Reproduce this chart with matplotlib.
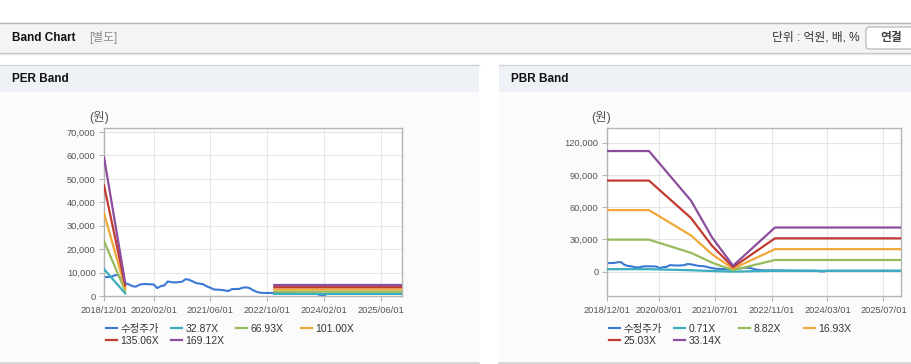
import numpy as np
import pandas as pd
import matplotlib
matplotlib.use('Agg')
import matplotlib.pyplot as plt
import matplotlib.ticker as mticker
from matplotlib.patches import Rectangle, FancyBboxPatch
from matplotlib.legend import Legend

plt.rcParams['font.family'] = ['Liberation Sans', 'Noto Sans CJK KR']

# ---- data ----
months = pd.date_range('2018-12-01', '2025-12-01', freq='MS')

# 수정주가, monthly
price = [8100, 8100, 8200, 8800, 9000, 6500, 5400, 5000, 4200, 4000,
         4800, 5100, 5100, 5000, 4900, 3400, 4200, 4500, 6200, 5900,
         5800, 5900, 6100, 7200, 6900, 6200, 5500, 5300, 5000, 4100,
         3500, 2800, 2700, 2600, 2400, 2100, 2900, 3000, 3000, 3500,
         3700, 3400, 2500, 1800, 1400, 1300, 1300, 1300, 1300,
         1200, 1200, 1100, 1100, 1100, 1000, 1000, 1000, 1000, 1000, 1000, 900,
         350, 350,
         900, 900, 900, 900, 900, 900, 900, 900, 900, 900, 900,
         900, 900, 900, 900, 900, 900, 900, 900, 900, 900, 900]

per_labels = ['32.87X', '66.93X', '101.00X', '135.06X', '169.12X']
per_dates = ['2018-12-01', '2019-06-01', '2019-07-01', '2022-12-01', '2025-12-01']
per_bands = [
    [11500, 1090, np.nan, 910, 910],
    [23400, 2210, np.nan, 1860, 1860],
    [35350, 3330, np.nan, 2810, 2810],
    [47270, 4460, np.nan, 3760, 3760],
    [59200, 5580, np.nan, 4700, 4700],
]
per_ticks = ['2018/12/01', '2020/02/01', '2021/06/01', '2022/10/01', '2024/02/01', '2025/06/01']

pbr_labels = ['0.71X', '8.82X', '16.93X', '25.03X', '33.14X']
pbr_dates = ['2018-12-01', '2019-12-01', '2020-12-01', '2021-06-01',
             '2021-12-01', '2022-12-01', '2025-12-01']
pbr_bands = [
    [2400, 2400, 1410, 690, 120, 880, 880],
    [29840, 29840, 17570, 8520, 1490, 10940, 10940],
    [57270, 57270, 33720, 16350, 2860, 20990, 20990],
    [84680, 84680, 49860, 24180, 4230, 31040, 31040],
    [112110, 112110, 66020, 32010, 5600, 41090, 41090],
]
pbr_ticks = ['2018/12/01', '2020/03/01', '2021/07/01', '2022/11/01', '2024/03/01', '2025/07/01']

price_color = '#3a78d4'
band_colors = ['#3aaebf', '#97bb5a', '#f0a83a', '#c23b30', '#8c4d9c']

W, H = 912, 364
fig = plt.figure(figsize=(W / 100, H / 100), dpi=100)

# background / page decoration in pixel coordinates
bg = fig.add_axes([0, 0, 1, 1], zorder=-10)
bg.set_xlim(0, W)
bg.set_ylim(H, 0)
bg.axis('off')

bg.add_patch(Rectangle((0, 22.5), W, 30, facecolor='#f4f4f4', edgecolor='none'))
bg.plot([0, W], [22.5, 22.5], color='#b4b4b4', lw=1)
bg.plot([0, W], [52.8, 52.8], color='#c4c4c4', lw=1)
bg.plot([0, W], [54, 54], color='#e6e6e6', lw=1)
bg.text(12, 38, 'Band Chart', fontsize=8.5, fontweight='bold', color='#111111', va='center')
bg.text(89, 38, '[별도]', fontsize=8.5, color='#8a8a8a', va='center')
bg.text(860, 38, '단위 : 억원, 배, %', fontsize=8.5, color='#333333', va='center', ha='right')
bg.add_patch(FancyBboxPatch((866, 27), 60, 22, boxstyle='round,pad=0,rounding_size=3',
                            facecolor='white', edgecolor='#b0b0b0', lw=0.8))
bg.text(891, 38, '연결', fontsize=8.5, fontweight='bold', color='#444444', va='center', ha='center')

for x0, x1, title in [(0, 479, 'PER Band'), (499, W, 'PBR Band')]:
    bg.add_patch(Rectangle((x0, 64.5), x1 - x0, 27.5, facecolor='#eef2f7', edgecolor='none'))
    bg.add_patch(Rectangle((x0, 92), x1 - x0, 270, facecolor='#fbfbfb', edgecolor='none'))
    bg.plot([x0, x1], [64.5, 64.5], color='#d2d2d2', lw=1)
    bg.plot([x0, x1], [362.5, 362.5], color='#d0d0d0', lw=1.2)
    bg.text(x0 + 12, 79, title, fontsize=8.5, fontweight='bold', color='#111111', va='center')


def draw_band(left_px, right_px, ylim, yticks, tick_labels, band_dates, bands, labels, ylab_x):
    ax = fig.add_axes([left_px / W, 1 - 296 / H, (right_px - left_px) / W, 168 / H])
    ax.set_facecolor('white')
    pl, = ax.plot(months, price, color=price_color, lw=1.5, label='수정주가', zorder=2)
    bd = pd.to_datetime(band_dates)
    handles = [pl]
    for vals, c, lab in zip(bands, band_colors, labels):
        ln, = ax.plot(bd, vals, color=c, lw=1.6, label=lab, zorder=3)
        handles.append(ln)
    ax.set_xlim(months[0], months[-1])
    ax.set_ylim(*ylim)
    ax.set_yticks(yticks)
    ax.yaxis.set_major_formatter(mticker.FuncFormatter(lambda v, p: f'{v:,.0f}'))
    ax.set_xticks(pd.to_datetime(tick_labels))
    ax.set_xticklabels(tick_labels)
    ax.grid(True, color='#e6e6e6', lw=0.8)
    ax.set_axisbelow(True)
    for s in ax.spines.values():
        s.set_color('#b4b4b4')
        s.set_linewidth(1)
    ax.tick_params(axis='both', labelsize=6.7, labelcolor='#555555', color='#b4b4b4',
                   length=3.5, width=0.8, pad=2.5)
    ax.tick_params(axis='x', pad=4)
    fig.text(ylab_x / W, 1 - 118 / H, '(원)', fontsize=9, color='#555555', ha='center', va='center')

    # legend, laid out row by row in 4 fixed-width columns
    cols = [[0, 4], [1, 5], [2], [3]]
    for ci, idx in enumerate(cols):
        leg = Legend(ax, [handles[i] for i in idx], [handles[i].get_label() for i in idx],
                     loc='upper left', bbox_to_anchor=((left_px + 2 + 65 * ci) / W, 1 - 324 / H),
                     bbox_transform=fig.transFigure, frameon=False, fontsize=7.5,
                     handlelength=1.1, handletextpad=0.3, labelspacing=0.15,
                     borderpad=0, borderaxespad=0)
        for t in leg.get_texts():
            t.set_color('#333333')
        ax.add_artist(leg)
    return ax


draw_band(104, 402, (0, 71700), np.arange(0, 70001, 10000), per_ticks,
          per_dates, per_bands, per_labels, 99)
draw_band(607, 901, (-22500, 133500), [0, 30000, 60000, 90000, 120000], pbr_ticks,
          pbr_dates, pbr_bands, pbr_labels, 601)

fig.savefig('out.png', dpi=100)
